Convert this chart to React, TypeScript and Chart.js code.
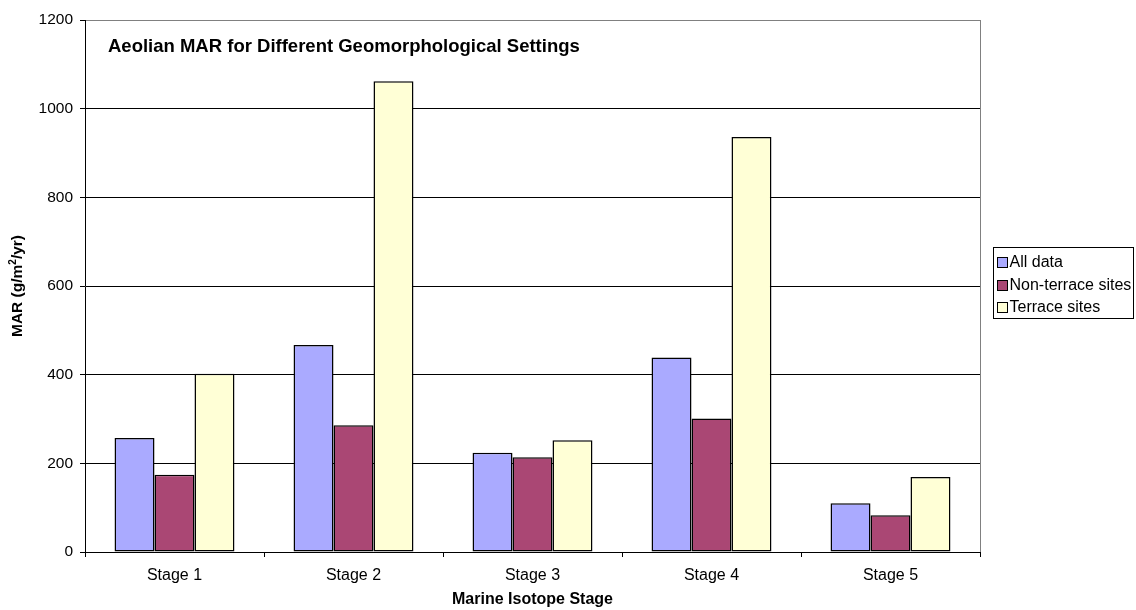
import React, { useEffect, useRef } from "react";
import { Chart, registerables } from "chart.js";

Chart.register(...registerables);

const categories = ["Stage 1", "Stage 2", "Stage 3", "Stage 4", "Stage 5"];
const allData = [257, 467, 224, 439, 110];
const nonTerrace = [174, 286, 214, 301, 83];
const terrace = [402, 1062, 252, 936, 169];
const seriesNames = ["All data", "Non-terrace sites", "Terrace sites"];
const seriesColors = ["#AAAAFF", "#AA4774", "#FFFFD6"];
const yTicks = [0, 200, 400, 600, 800, 1000, 1200];
const chartTitle = "Aeolian MAR for Different Geomorphological Settings";
const xTitle = "Marine Isotope Stage";

const FONT = "'Liberation Sans', Arial, sans-serif";

const overlayPlugin = {
  id: "overlay",
  afterDraw(chart: any) {
    const ctx = chart.ctx as CanvasRenderingContext2D;
    const ca = chart.chartArea;
    ctx.save();
    // plot border (right gray)
    ctx.strokeStyle = "#808080";
    ctx.lineWidth = 1;
    ctx.beginPath();
    ctx.moveTo(Math.round(ca.right) + 0.5, Math.round(ca.top));
    ctx.lineTo(Math.round(ca.right) + 0.5, Math.round(ca.bottom));
    ctx.stroke();

    // chart title inside plot
    ctx.fillStyle = "#000";
    ctx.font = `bold 18.5px ${FONT}`;
    ctx.textAlign = "left";
    ctx.textBaseline = "middle";
    ctx.fillText(chartTitle, ca.left + 23, ca.top + 27);

    // x axis title
    ctx.font = `bold 16px ${FONT}`;
    ctx.textAlign = "center";
    ctx.fillText(xTitle, (ca.left + ca.right) / 2, 600);

    // y axis title with superscript
    const cy = (ca.top + ca.bottom) / 2;
    ctx.translate(18, cy);
    ctx.rotate(-Math.PI / 2);
    const p1 = "MAR (g/m";
    const p2 = "2";
    const p3 = "/yr)";
    ctx.font = `bold 15.5px ${FONT}`;
    const w1 = ctx.measureText(p1).width;
    const w3 = ctx.measureText(p3).width;
    ctx.font = `bold 10px ${FONT}`;
    const w2 = ctx.measureText(p2).width;
    const total = w1 + w2 + w3;
    let x = -total / 2;
    ctx.textAlign = "left";
    ctx.font = `bold 15.5px ${FONT}`;
    ctx.fillText(p1, x, 0);
    x += w1;
    ctx.font = `bold 10px ${FONT}`;
    ctx.fillText(p2, x, -5);
    x += w2;
    ctx.font = `bold 15.5px ${FONT}`;
    ctx.fillText(p3, x, 0);
    ctx.setTransform(1, 0, 0, 1, 0, 0);

    // legend
    const lx = ca.right + 13.5;
    const ly = 247.5;
    const lw = 140;
    const lh = 71;
    ctx.fillStyle = "#fff";
    ctx.fillRect(lx, ly, lw, lh);
    ctx.strokeStyle = "#000";
    ctx.lineWidth = 1;
    ctx.strokeRect(lx, ly, lw, lh);
    ctx.font = `16px ${FONT}`;
    ctx.textBaseline = "middle";
    chart.data.datasets.forEach((ds: any, i: number) => {
      const rowY = 262 + i * 22.5;
      ctx.fillStyle = ds.backgroundColor;
      ctx.fillRect(lx + 4, Math.round(rowY - 5) + 0.5, 10, 10);
      ctx.strokeStyle = "#000";
      ctx.strokeRect(lx + 4, Math.round(rowY - 5) + 0.5, 10, 10);
      ctx.fillStyle = "#000";
      ctx.fillText(ds.label, lx + 16, rowY + 1);
    });
    ctx.restore();
  },
};

export default function App() {
  const canvasRef = useRef<HTMLCanvasElement | null>(null);

  useEffect(() => {
    if (!canvasRef.current) return;
    const series = [allData, nonTerrace, terrace];
    const chart = new Chart(canvasRef.current, {
      type: "bar",
      data: {
        labels: categories,
        datasets: series.map((d, i) => ({
          label: seriesNames[i],
          data: d,
          backgroundColor: seriesColors[i],
          borderColor: "#000",
          borderWidth: 1.5,
          borderSkipped: false,
          categoryPercentage: 0.67,
          barPercentage: 1.0,
        })),
      },
      options: {
        responsive: false,
        maintainAspectRatio: false,
        animation: false,
        layout: { padding: { left: 0, top: 20, right: 156, bottom: 0 } },
        plugins: {
          legend: { display: false },
          title: { display: false },
          tooltip: { enabled: false },
        },
        scales: {
          x: {
            offset: true,
            grid: {
              offset: true,
              drawOnChartArea: false,
              drawTicks: true,
              tickLength: 5,
              color: "#000",
            },
            border: { display: true, color: "#000", width: 1 },
            ticks: {
              color: "#000",
              font: { family: FONT, size: 16 },
              padding: 9,
              maxRotation: 0,
            },
            afterFit: (s: any) => {
              s.height = 58;
            },
          },
          y: {
            min: 0,
            max: 1200,
            afterBuildTicks: (s: any) => {
              s.ticks = yTicks.map((v) => ({ value: v }));
            },
            grid: {
              color: (c: any) => (c.tick && c.tick.value === 1200 ? "#808080" : "#000"),
              tickColor: "#000",
              drawTicks: true,
              tickLength: 5,
              lineWidth: 1,
            },
            border: { display: true, color: "#000", width: 1 },
            ticks: {
              color: "#000",
              font: { family: FONT, size: 15.5 },
              padding: 7,
              callback: (v: any) => String(v),
            },
            afterFit: (s: any) => {
              s.width = 85;
            },
          },
        },
      },
      plugins: [overlayPlugin],
    });
    return () => chart.destroy();
  }, []);

  return (
    <div style={{ position: "fixed", left: 0, top: 0, width: 1136, height: 610, background: "#fff" }}>
      <canvas ref={canvasRef} width={1136} height={610} style={{ display: "block" }} />
    </div>
  );
}
